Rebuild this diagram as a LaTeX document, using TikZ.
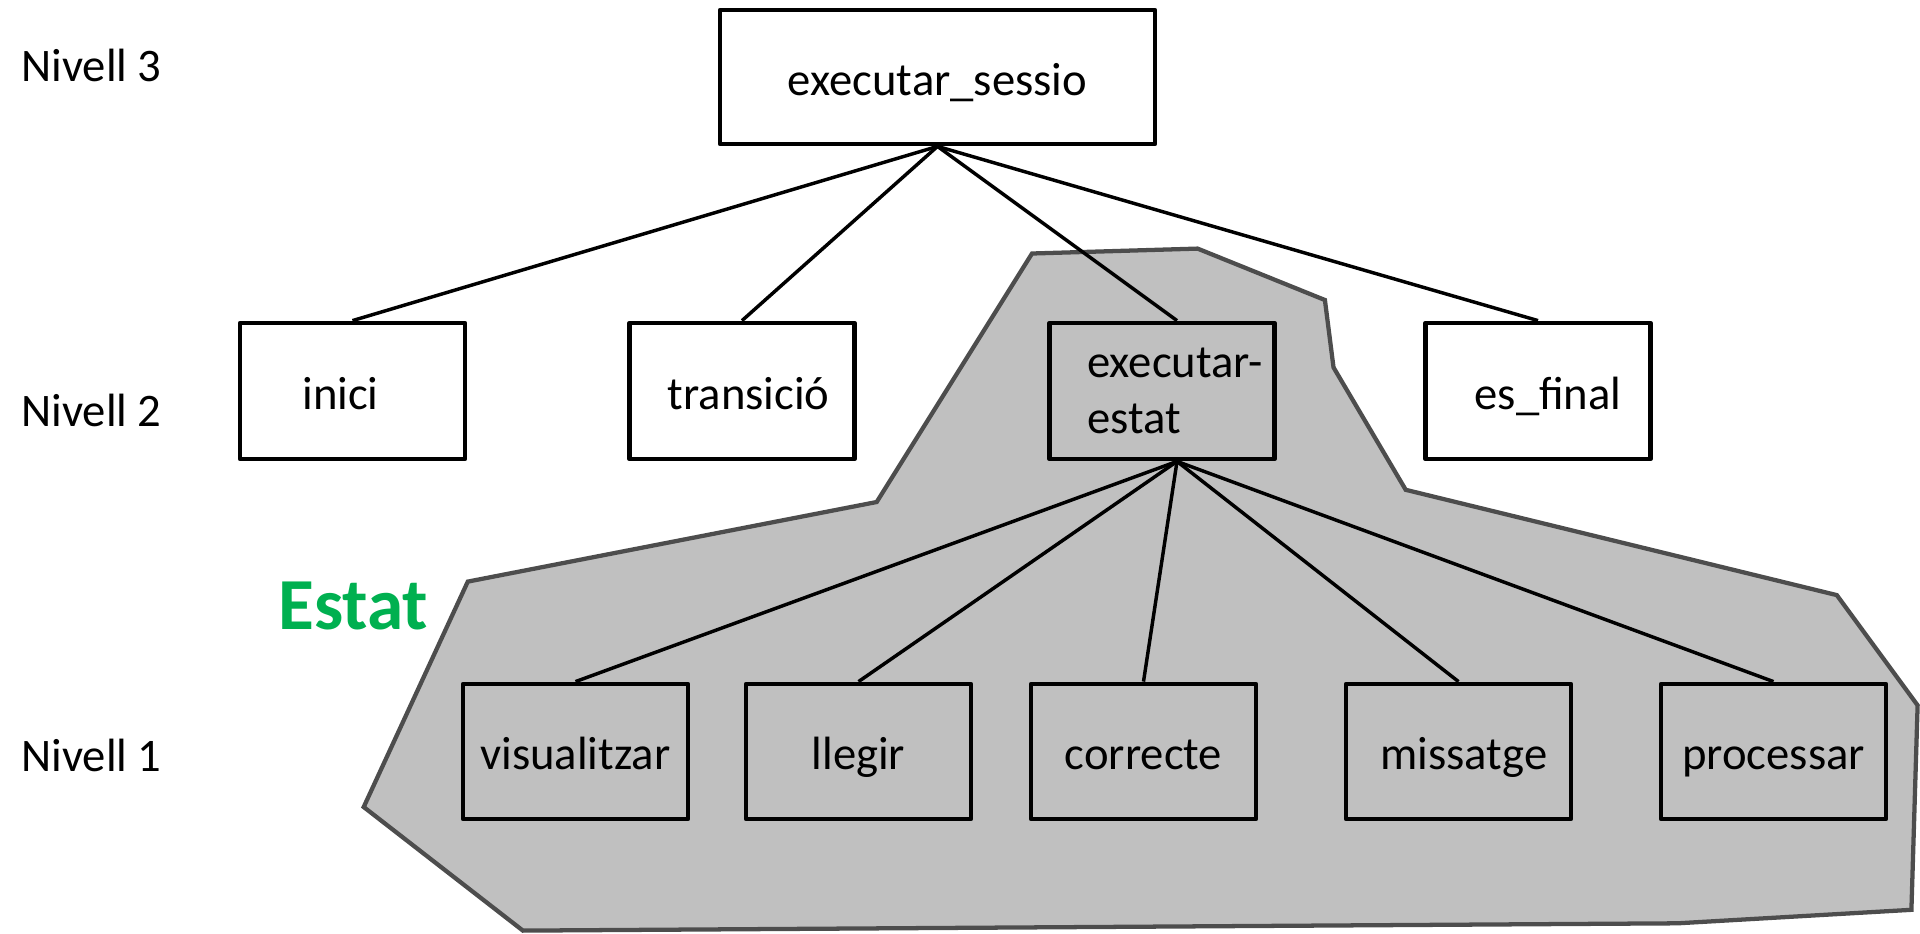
\documentclass[tikz,border=0pt]{standalone}
\usepackage{fontspec}
\setmainfont{Carlito}
\definecolor{polyfill}{HTML}{C0C0C0}
\definecolor{polyline}{HTML}{4D4D4D}
\definecolor{estatgreen}{HTML}{00B050}
\begin{document}
\begin{tikzpicture}[x=0.75pt,y=-0.75pt,
  box/.style={draw=black,line width=3.6pt,line join=round,rectangle,inner sep=0pt,font=\fontsize{35}{42}\selectfont},
  oneline/.style={text height=33pt,text depth=6pt},
  lvtwo/.style={box,minimum width=168.75pt,minimum height=102pt},
  lvone/.style={box,oneline,minimum width=168.75pt,minimum height=101.25pt},
  conn/.style={draw=black,line width=2.6pt},
  lvl/.style={anchor=west,inner sep=0pt,font=\fontsize{35}{42}\selectfont}]
\useasboundingbox (0,0) rectangle (1920,933);
% grey region
\filldraw[fill=polyfill,draw=polyline,line width=3.2pt,line join=miter]
  (1032,253.5) -- (1197.6,248.6) -- (1324.9,300) -- (1333.5,367.4) -- (1405.7,489.8)
  -- (1836.8,595.1) -- (1917.6,705.3) -- (1911.4,909.8) -- (1677.6,923.3)
  -- (522.9,930.6) -- (363.7,807) -- (467.8,581.6) -- (876.7,502) -- cycle;
% level labels
\node[lvl] (n3) at (21,65) {Nivell 3};
\node[lvl] (n2) at (21,410) {Nivell 2};
\node[lvl] (n1) at (21,755.5) {Nivell 1};
\node[anchor=west,inner sep=0pt,text=estatgreen,font=\fontsize{55}{60}\selectfont\bfseries] (estat) at (278,606) {Estat};
% boxes
\node[box,oneline,fill=white,minimum width=326.25pt,minimum height=100.5pt] (sess) at (937.5,77) {executar\_sessio};
\node[lvtwo,oneline,fill=white] (inici) at (352.5,391) {\hspace*{-18pt}inici};
\node[lvtwo,oneline,fill=white] (trans) at (742,391) {\hspace*{10pt}transició};
\node[lvtwo,fill=polyfill,align=left] (ee) at (1162,391) {\hspace*{19.5pt}executar-\\\hspace*{19.5pt}estat};
\node[lvtwo,oneline,fill=white] (esf) at (1538,391) {\hspace*{15pt}es\_final};
\node[lvone,fill=polyfill] (vis) at (575.5,751.5) {visualitzar};
\node[lvone,fill=polyfill] (lle) at (858.5,751.5) {llegir};
\node[lvone,fill=polyfill] (cor) at (1143.5,751.5) {correcte};
\node[lvone,fill=polyfill] (mis) at (1458.5,751.5) {\hspace*{8pt}missatge};
\node[lvone,fill=polyfill] (pro) at (1773.5,751.5) {processar};
% connectors
\draw[conn] (sess.south) -- (inici.north);
\draw[conn] (sess.south) -- (trans.north);
\draw[conn] (sess.south) -- ([xshift=11.25pt]ee.north);
\draw[conn] (sess.south) -- (esf.north);
\coordinate (eeb) at ([xshift=11.25pt]ee.south);
\draw[conn] (eeb) -- (vis.north);
\draw[conn] (eeb) -- (lle.north);
\draw[conn] (eeb) -- (cor.north);
\draw[conn] (eeb) -- (mis.north);
\draw[conn] (eeb) -- (pro.north);
\end{tikzpicture}
\end{document}
